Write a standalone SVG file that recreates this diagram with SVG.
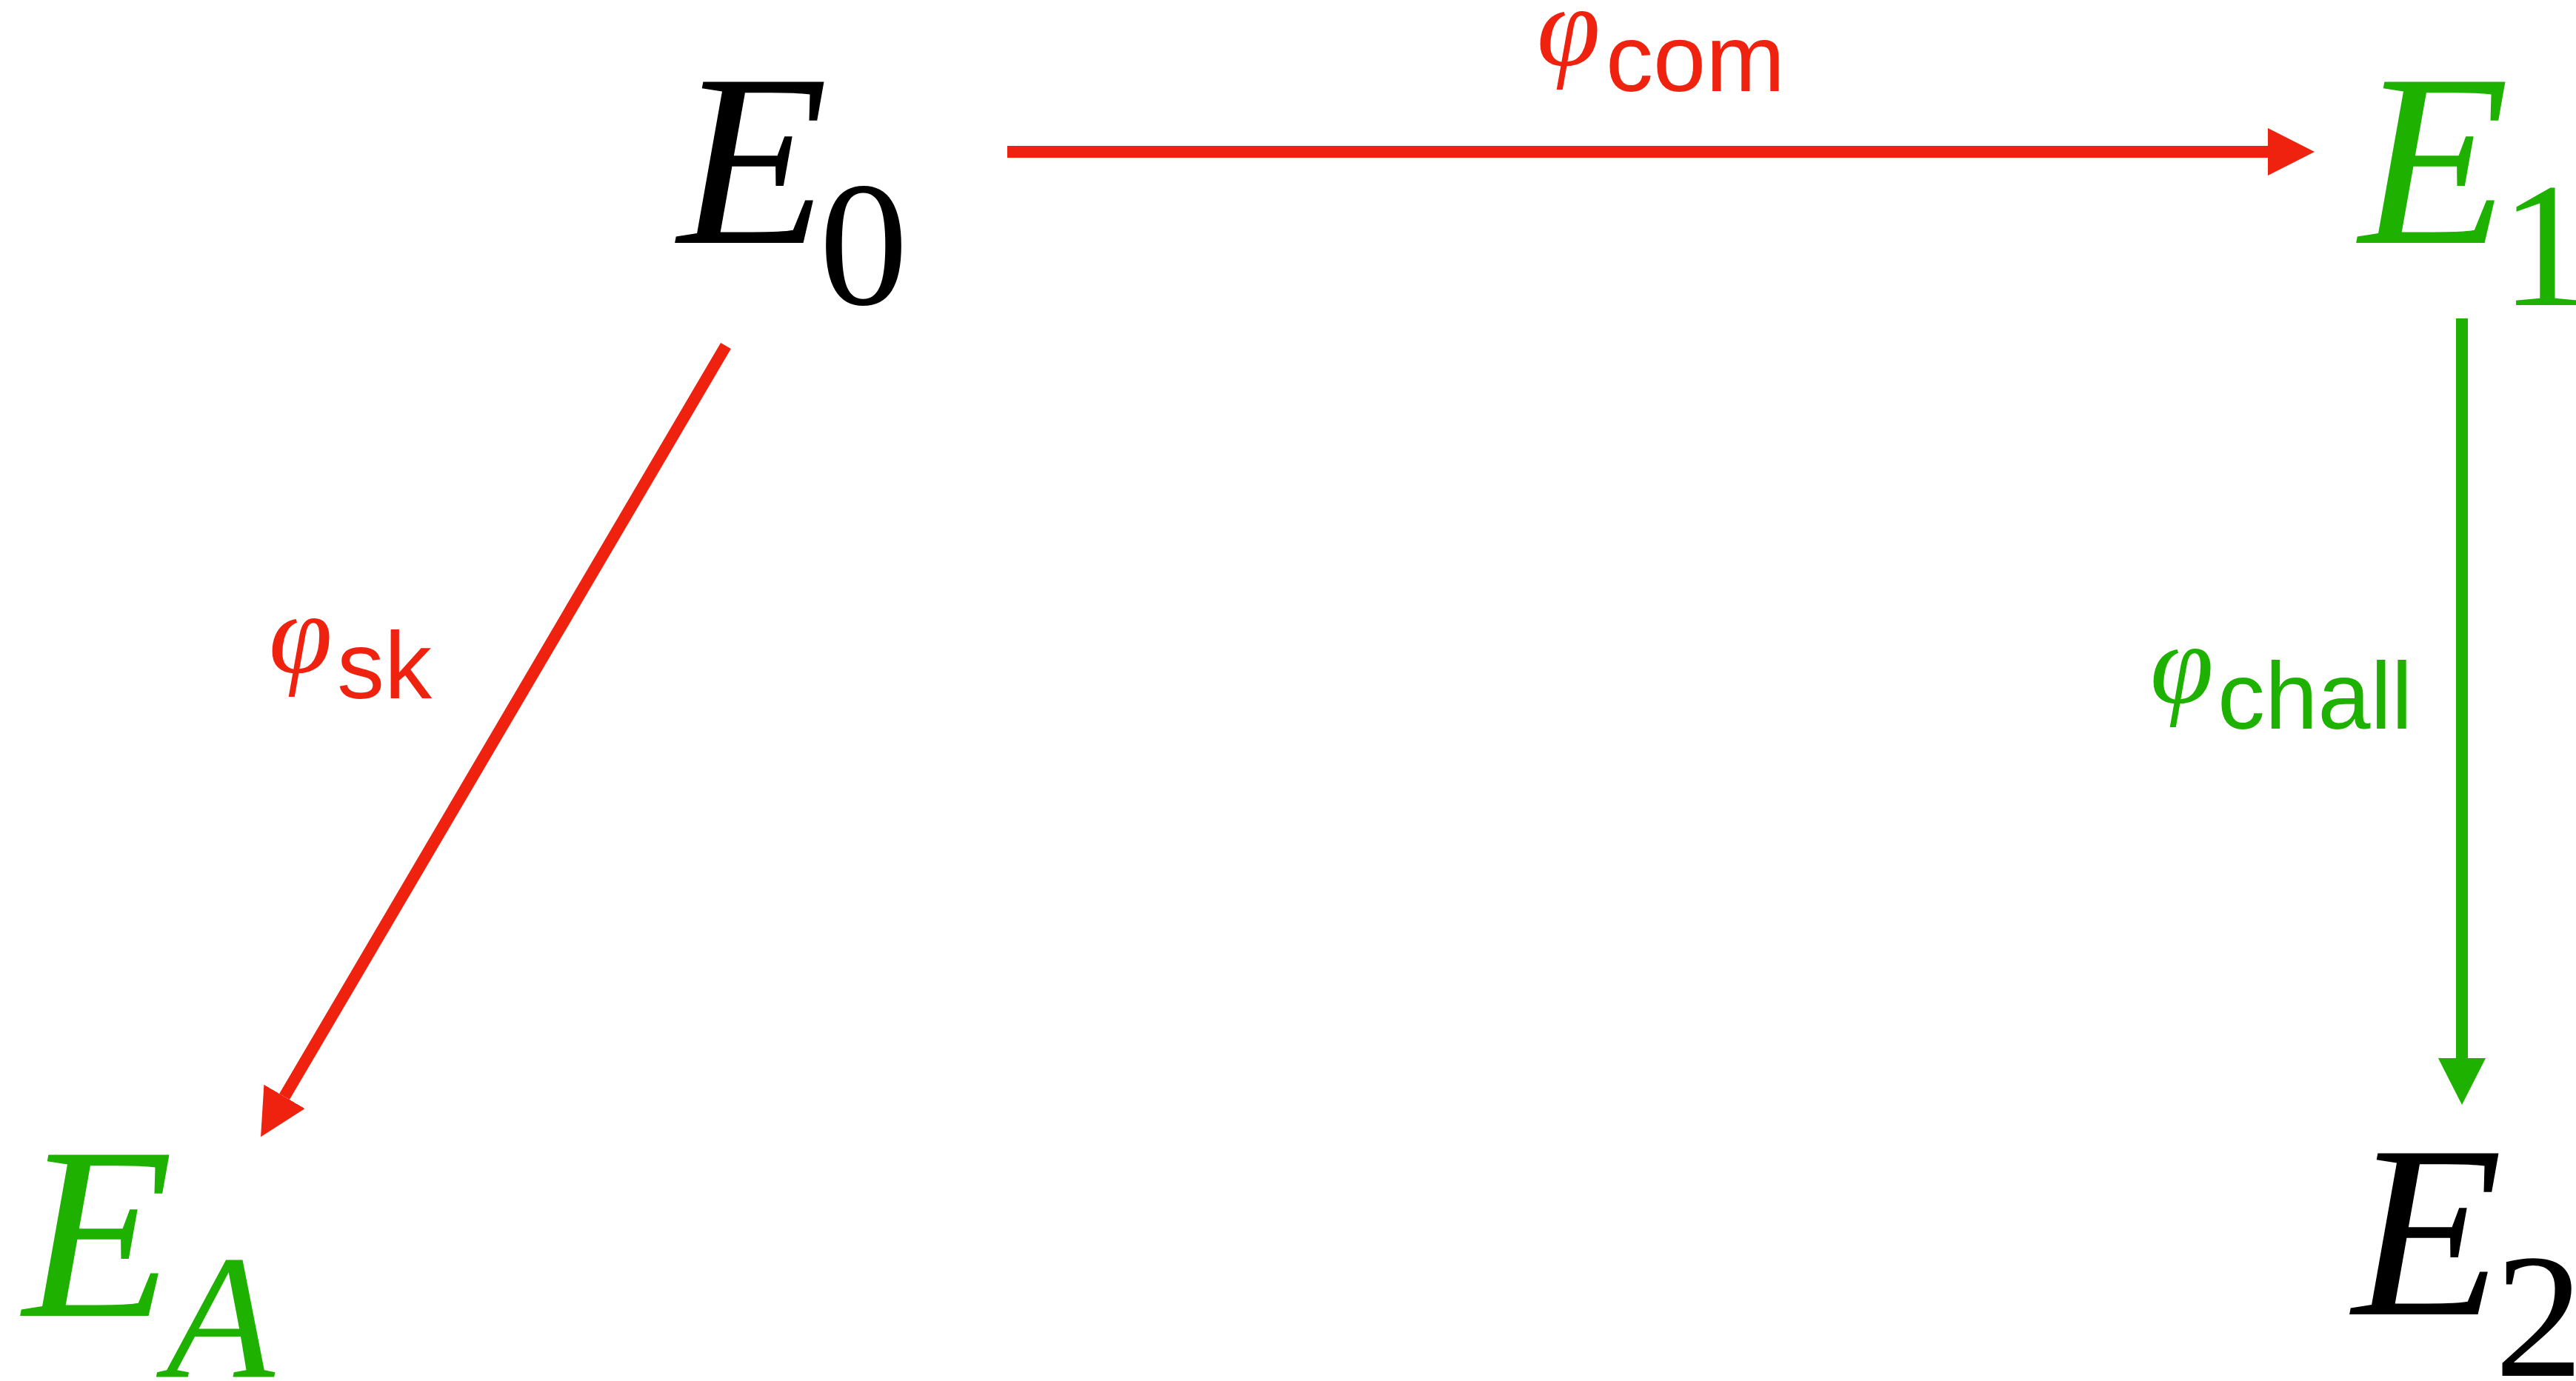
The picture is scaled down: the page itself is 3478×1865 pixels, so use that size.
<svg xmlns="http://www.w3.org/2000/svg" width="3478" height="1865" viewBox="0 0 3478 1865">
<style>
.big{font-family:"Liberation Serif","Times New Roman",serif;font-style:italic;font-size:332px}
.sub{font-family:"Liberation Serif","Times New Roman",serif;font-size:240px}
.subi{font-family:"Liberation Serif","Times New Roman",serif;font-style:italic;font-size:240px}
.phi{font-family:"Liberation Serif","Times New Roman",serif;font-style:italic;font-size:155px}
.lab{font-family:"Liberation Sans",Arial,sans-serif;font-size:128px}
.red{fill:#EE220F}
.green{fill:#1EB100}
.black{fill:#000}
.edge{stroke-width:16;fill:none}
</style>
<defs>
<marker id="hr" markerUnits="userSpaceOnUse" markerWidth="64" markerHeight="64" refX="0" refY="32" orient="auto" viewBox="0 0 64 64"><path d="M0,0 L63,32 L0,64 Z" fill="#EE220F"/></marker>
<marker id="hg" markerUnits="userSpaceOnUse" markerWidth="64" markerHeight="64" refX="0" refY="32" orient="auto" viewBox="0 0 64 64"><path d="M0,0 L63,32 L0,64 Z" fill="#1EB100"/></marker>
</defs>
<rect width="3478" height="1865" fill="#fff"/>
<g id="connectors">
<line class="edge" x1="1360" y1="205" x2="3062" y2="205" stroke="#EE220F" marker-end="url(#hr)"/>
<line class="edge" x1="3324" y1="430" x2="3324" y2="1429" stroke="#1EB100" marker-end="url(#hg)"/>
<line class="edge" x1="980" y1="467" x2="384" y2="1481" stroke="#EE220F" marker-end="url(#hr)"/>
<g id="label-com"><text class="phi red" x="2075" y="88">φ</text><text class="lab red" x="2168" y="123">com</text></g>
<g id="label-sk"><text class="phi red" x="363" y="908">φ</text><text class="lab red" x="455" y="943">sk</text></g>
<g id="label-chall"><text class="phi green" x="2903" y="949">φ</text><text class="lab green" x="2994" y="984">chall</text></g>
</g>
<g id="E0"><text class="big black" x="915" y="328">E</text><text class="sub black" x="1106" y="411">0</text></g>
<g id="E1"><text class="big green" x="3185" y="328">E</text><text class="sub green" x="3376" y="412">1</text></g>
<g id="EA"><text class="big green" x="31" y="1777">E</text><text class="subi green" x="224" y="1860">A</text></g>
<g id="E2"><text class="big black" x="3176" y="1775">E</text><text class="sub black" x="3368" y="1858">2</text></g>
</svg>
